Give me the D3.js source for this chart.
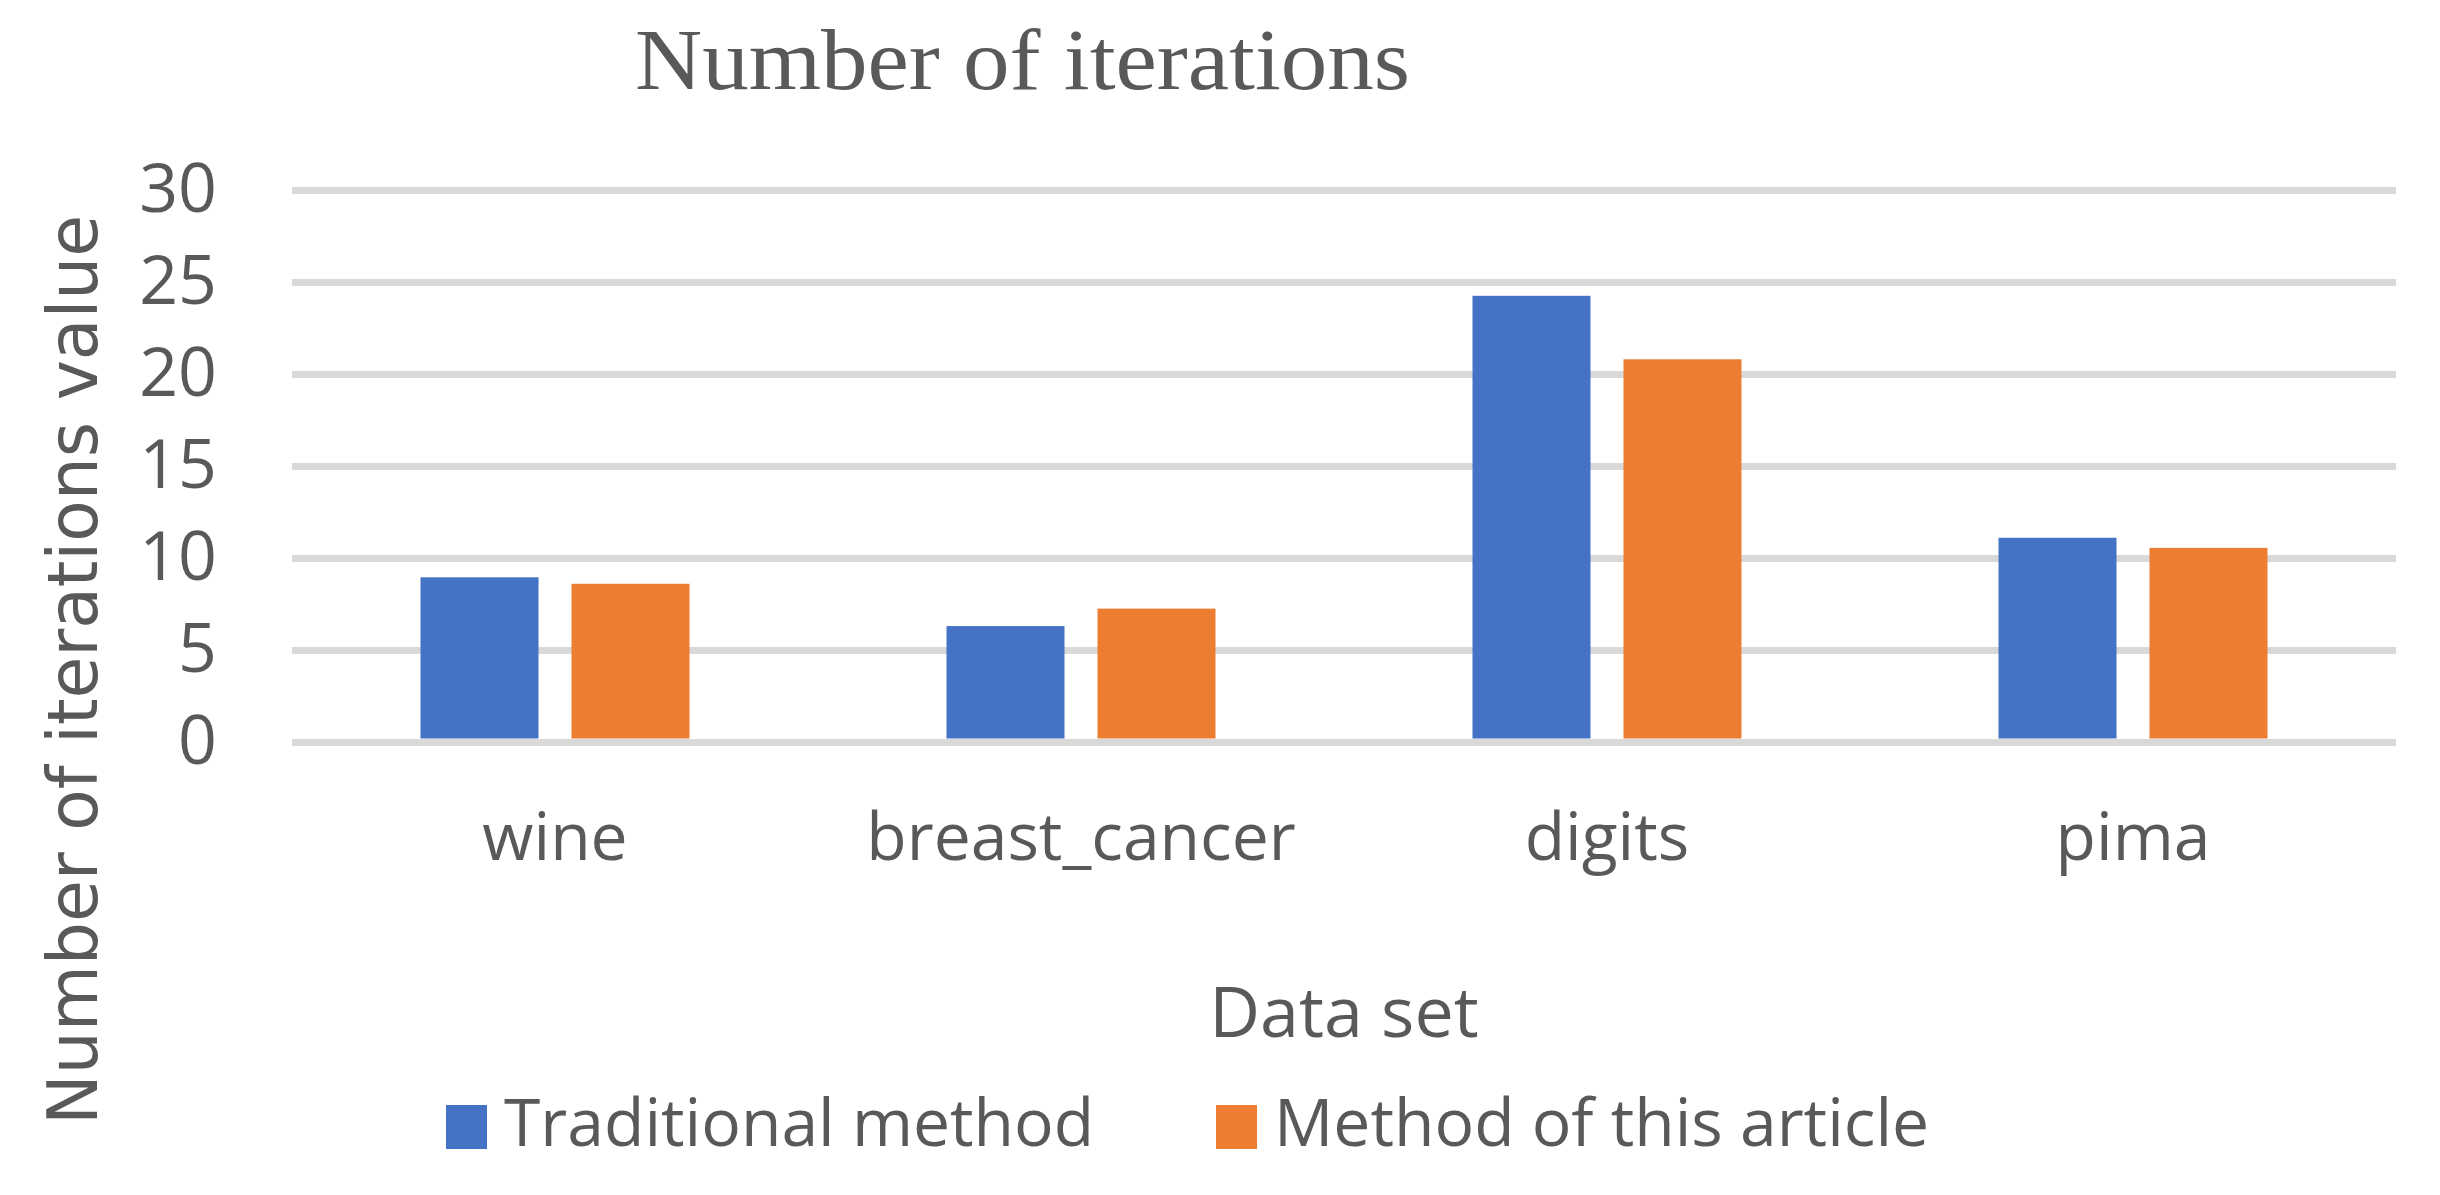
<!DOCTYPE html>
<html>
<head>
<meta charset="utf-8">
<script src="https://cdn.jsdelivr.net/npm/d3@7"></script>
<style>
  body { margin: 0; background: #fff; }
  text { fill: #595959; }
</style>
</head>
<body>
<svg id="chart"></svg>
<script>
const width = 2440;
const height = 1195;

// data
const categories = ["wine", "breast_cancer", "digits", "pima"];
const seriesNames = ["Traditional method", "Method of this article"];
const traditional = [8.95, 6.3, 24.25, 11.1];
const thisArticle = [8.6, 7.25, 20.8, 10.55];
const yTicks = [0, 5, 10, 15, 20, 25, 30];
const colors = ["#4472C4", "#ED7D31"];

const plot = {left: 292, right: 2396, top: 190, bottom: 742};

const svg = d3.select('#chart').attr('width', width).attr('height', height);

const x0 = d3.scaleBand().domain(categories).range([plot.left, plot.right]).padding(0);
const x1 = d3.scaleBand().domain(seriesNames).range([0, x0.bandwidth()])
    .paddingInner(0.2185).paddingOuter(0.851);
const y = d3.scaleLinear().domain([0, 30]).range([plot.bottom, plot.top]);

// gridlines + tick labels
const yAxis = svg.append('g')
    .attr('transform', `translate(${plot.left},0)`)
    .call(d3.axisLeft(y).tickValues(yTicks).tickSize(-(plot.right - plot.left)).tickPadding(75));
yAxis.select('.domain').remove();
yAxis.selectAll('.tick line').attr('stroke', '#D9D9D9').attr('stroke-width', 7);
yAxis.selectAll('.tick text')
    .style('font-family', '"Open Sans"')
    .style('font-size', '68px')
    .attr('fill', '#595959');

// bars
const rows = categories.map((c, i) => ({cat: c, values: [traditional[i], thisArticle[i]]}));
svg.append('g').selectAll('g')
    .data(rows)
    .join('g')
    .attr('transform', d => `translate(${x0(d.cat)},0)`)
    .selectAll('rect')
    .data(d => d.values.map((v, j) => ({name: seriesNames[j], value: v, j})))
    .join('rect')
    .attr('x', d => x1(d.name))
    .attr('width', x1.bandwidth())
    .attr('y', d => y(d.value))
    .attr('height', d => y(0) - 3.5 - y(d.value))
    .attr('fill', d => colors[d.j]);

// category labels
const xAxis = svg.append('g')
    .attr('transform', `translate(0,${plot.bottom})`)
    .call(d3.axisBottom(x0).tickSize(0));
xAxis.select('.domain').remove();
xAxis.selectAll('.tick text')
    .attr('y', 118)
    .attr('dy', null)
    .style('font-family', '"Open Sans"')
    .style('font-size', '66px')
    .attr('fill', '#595959');

// chart title
svg.append('text')
    .attr('x', 635)
    .attr('y', 89)
    .attr('textLength', 775)
    .attr('lengthAdjust', 'spacingAndGlyphs')
    .style('font-family', '"Liberation Serif"')
    .style('font-size', '86px')
    .text('Number of iterations');

// axis titles
svg.append('text')
    .attr('x', (plot.left + plot.right) / 2)
    .attr('y', 1037)
    .attr('text-anchor', 'middle')
    .style('font-family', '"Open Sans"')
    .style('font-size', '70px')
    .text('Data set');

svg.append('text')
    .attr('transform', 'translate(97,670) rotate(-90)')
    .attr('text-anchor', 'middle')
    .attr('textLength', 910)
    .attr('lengthAdjust', 'spacingAndGlyphs')
    .style('font-family', '"DejaVu Sans"')
    .style('font-size', '70px')
    .text('Number of iterations value');

// legend
const legend = svg.append('g').selectAll('g')
    .data(seriesNames)
    .join('g')
    .attr('transform', (d, i) => `translate(${446 + i * 770},1105)`);
legend.append('rect')
    .attr('width', 41)
    .attr('height', 44)
    .attr('fill', (d, i) => colors[i]);
legend.append('text')
    .attr('x', 58)
    .attr('y', 41)
    .style('font-family', '"Open Sans"')
    .style('font-size', '66px')
    .text(d => d);
</script>
</body>
</html>
